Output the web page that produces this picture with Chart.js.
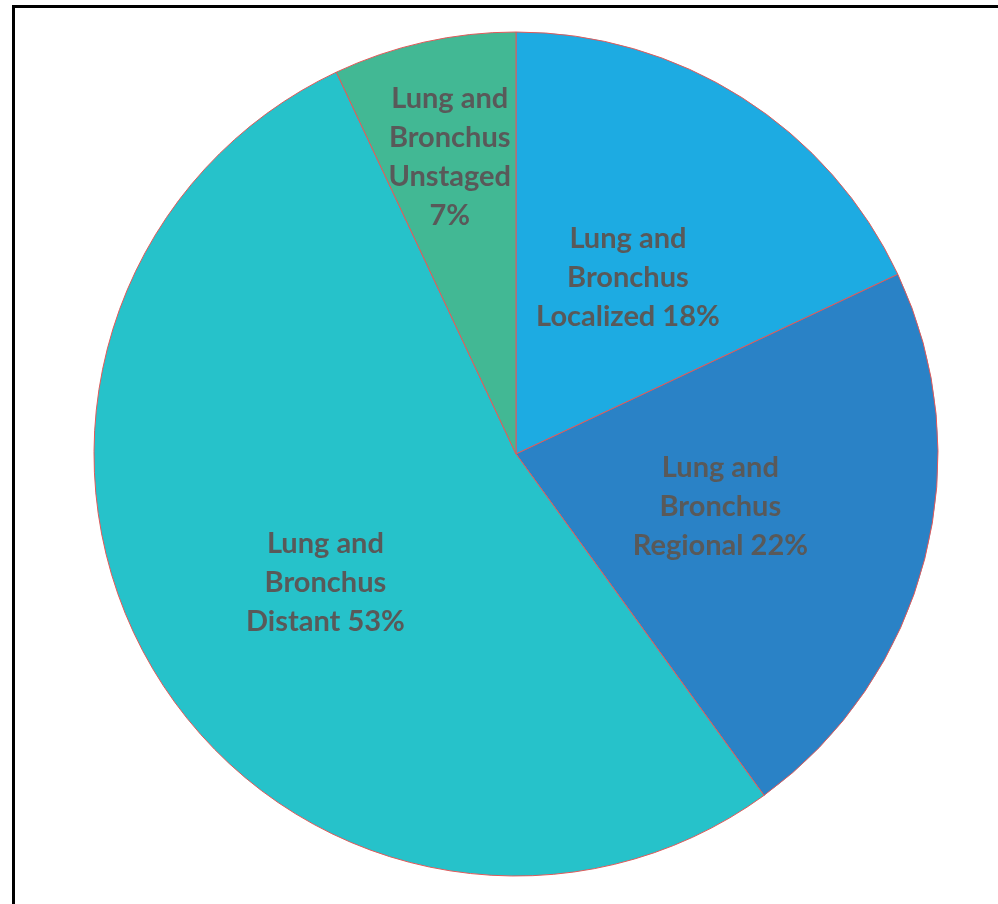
<!DOCTYPE html>
<html>
<head>
<meta charset="utf-8">
<script src="https://cdn.jsdelivr.net/npm/chart.js@4/dist/chart.umd.min.js"></script>
<style>
html,body{margin:0;padding:0;background:#fff;overflow:hidden;}
#wrap{position:relative;width:998px;height:904px;}
#frame{position:absolute;left:12px;top:5px;width:1100px;height:1100px;border:3px solid #000;box-sizing:border-box;pointer-events:none;}
canvas{position:absolute;left:0;top:0;}
</style>
</head>
<body>
<div id="wrap">
<canvas id="c" width="998" height="904"></canvas>
<div id="frame"></div>
</div>
<script>
const categories = ["Lung and Bronchus Localized", "Lung and Bronchus Regional", "Lung and Bronchus Distant", "Lung and Bronchus Unstaged"];
const values = [18, 22, 53, 7];
const labelLines = [
  ["Lung and", "Bronchus", "Localized 18%"],
  ["Lung and", "Bronchus", "Regional 22%"],
  ["Lung and", "Bronchus", "Distant 53%"],
  ["Lung and", "Bronchus", "Unstaged", "7%"]
];
const colors = ["#1DABE2", "#2A82C6", "#26C2CA", "#42B894"];
const labelRadiusFrac = [0.495, 0.5, 0.545, 0.72];
const labelAngleFrac = [0.5, 0.5, 0.482, 0.5];

const labelPlugin = {
  id: 'sliceLabels',
  afterDatasetsDraw(chart) {
    const ctx = chart.ctx;
    const meta = chart.getDatasetMeta(0);
    ctx.save();
    ctx.font = 'bold 29px Lato, "Open Sans", sans-serif';
    ctx.fillStyle = '#595959';
    ctx.textAlign = 'center';
    ctx.textBaseline = 'middle';
    meta.data.forEach((arc, i) => {
      const p = arc.getProps(['x','y','startAngle','endAngle','outerRadius'], true);
      const ang = p.startAngle + (p.endAngle - p.startAngle) * labelAngleFrac[i];
      const r = p.outerRadius * labelRadiusFrac[i];
      const cx = p.x + Math.cos(ang) * r;
      const cy = p.y + Math.sin(ang) * r;
      const lines = labelLines[i];
      const lh = 39;
      const y0 = cy - (lines.length - 1) * lh / 2;
      lines.forEach((t, k) => ctx.fillText(t, cx, y0 + k * lh));
    });
    ctx.restore();
  }
};

new Chart(document.getElementById('c'), {
  type: 'pie',
  data: {
    labels: categories,
    datasets: [{
      data: values,
      backgroundColor: colors,
      borderColor: '#E05A5A',
      borderWidth: 1
    }]
  },
  options: {
    responsive: false,
    animation: false,
    radius: 422,
    layout: { padding: { left: 34, top: 4, right: 0, bottom: 0 } },
    plugins: { legend: { display: false }, tooltip: { enabled: false } }
  },
  plugins: [labelPlugin]
});
</script>
</body>
</html>
